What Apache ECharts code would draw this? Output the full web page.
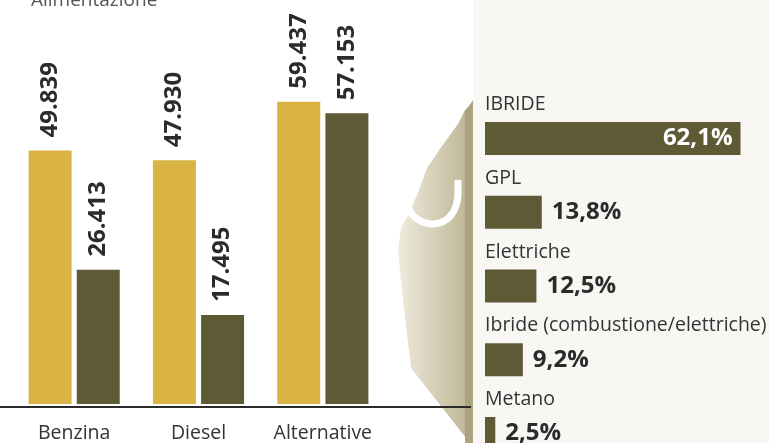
<!DOCTYPE html>
<html>
<head>
<meta charset="utf-8">
<script src="https://cdn.jsdelivr.net/npm/echarts@6/dist/echarts.min.js"></script>
<style>
html,body{margin:0;padding:0;background:#fff;}
#c{width:769px;height:443px;}
</style>
</head>
<body>
<div id="c"></div>
<script>
// Left chart data
var fuelCategories = ['Benzina', 'Diesel', 'Alternative'];
var seriesA = [49839, 47930, 59437];
var seriesB = [26413, 17495, 57153];
// Right chart data
var altCategories = ['IBRIDE', 'GPL', 'Elettriche', 'Ibride (combustione/elettriche)', 'Metano'];
var altShares = [62.1, 13.8, 12.5, 9.2, 2.5];

var YELLOW = '#d9b445';
var OLIVE = '#5f5a36';
var FONT = '"Open Sans", "Noto Sans", sans-serif';

function fmtThousands(v) {
  var s = String(Math.round(v));
  return s.replace(/\B(?=(\d{3})+(?!\d))/g, '.');
}
function fmtPct(v) {
  return v.toFixed(1).replace('.', ',') + '%';
}

var barLabel = {
  show: true,
  position: 'top',
  rotate: 90,
  align: 'left',
  verticalAlign: 'middle',
  distance: 13,
  fontFamily: FONT,
  fontSize: 24,
  fontWeight: 'bold',
  color: '#2b2b2b',
  formatter: function (p) { return fmtThousands(p.value); }
};

var altData = altShares.map(function (v) {
  var inside = v > 30;
  return {
    value: v,
    label: inside ? { position: 'insideRight', color: '#ffffff', distance: 8 }
                  : { position: 'right', color: '#2b2b2b', distance: 10 }
  };
});

var chart = echarts.init(document.getElementById('c'), null, { renderer: 'canvas' });
chart.setOption({
  animation: false,
  backgroundColor: '#ffffff',
  title: {
    text: 'Alimentazione',
    left: 26,
    top: -14,
    textStyle: { fontFamily: FONT, fontSize: 19, fontWeight: 'normal', color: '#555' }
  },
  graphic: [
    { type: 'rect', silent: true, z: -10, shape: { x: 473, y: 0, width: 296, height: 443 },
      style: { fill: '#f8f7f4' } },
    { type: 'polygon', silent: true, z: -9,
      shape: { points: [[473, 102], [465, 110], [458, 124], [442, 146], [427, 168], [419, 190], [410, 212], [401, 228], [398, 250], [403, 300], [411, 368], [470, 443], [473, 443]] },
      style: { fill: new echarts.graphic.LinearGradient(398, 0, 470, 0, [
        { offset: 0, color: '#efebdc' }, { offset: 1, color: '#bdb594' }], true) } },
    { type: 'polygon', silent: true, z: -8,
      shape: { points: [[473, 100], [465, 112], [465, 443], [473, 443]] },
      style: { fill: '#aba37f' } },
    { type: 'bezierCurve', silent: true, z: -7,
      shape: { x1: 408, y1: 206, cpx1: 414, cpy1: 230, cpx2: 458, cpy2: 234, x2: 458, y2: 192 },
      style: { stroke: '#ffffff', lineWidth: 7, fill: 'none' } },
    { type: 'line', silent: true, z: -7, shape: { x1: 458, y1: 193, x2: 458, y2: 180 },
      style: { stroke: '#ffffff', lineWidth: 7 } },
    { type: 'line', silent: true, z: 5, shape: { x1: 0, y1: 407, x2: 471, y2: 407 },
      style: { stroke: '#2b2b2b', lineWidth: 2 } }
  ],
  grid: [
    { left: 12, top: 48, width: 373, height: 359 },
    { left: 485, top: 138.5, width: 268, height: 295 }
  ],
  xAxis: [
    { type: 'category', gridIndex: 0, data: fuelCategories,
      axisLine: { show: false }, axisTick: { show: false },
      axisLabel: { interval: 0, hideOverlap: false, margin: 19, fontFamily: FONT, fontSize: 19.5, color: '#333' } },
    { type: 'value', gridIndex: 1, min: 0, max: 65, show: false }
  ],
  yAxis: [
    { type: 'value', gridIndex: 0, min: 0, max: 70000, show: false },
    { type: 'category', gridIndex: 1, data: altCategories, inverse: true, boundaryGap: false,
      axisLine: { show: false }, axisTick: { show: false }, splitLine: { show: false },
      axisLabel: { inside: true, margin: 0, interval: 0, hideOverlap: false, verticalAlign: 'bottom',
        padding: [0, 0, 24, 0], fontFamily: FONT, fontSize: 19.5, color: '#333' } }
  ],
  series: [
    { type: 'bar', xAxisIndex: 0, yAxisIndex: 0, data: seriesA, barWidth: 43, barGap: '12%',
      itemStyle: { color: YELLOW }, label: barLabel },
    { type: 'bar', xAxisIndex: 0, yAxisIndex: 0, data: seriesB, barWidth: 43, barGap: '12%',
      itemStyle: { color: OLIVE }, label: barLabel },
    { type: 'bar', xAxisIndex: 1, yAxisIndex: 1, data: altData, barWidth: 33,
      itemStyle: { color: OLIVE },
      label: { show: true, fontFamily: FONT, fontSize: 24, fontWeight: 'bold',
        formatter: function (p) { return fmtPct(p.value); } } }
  ]
});
</script>
</body>
</html>
